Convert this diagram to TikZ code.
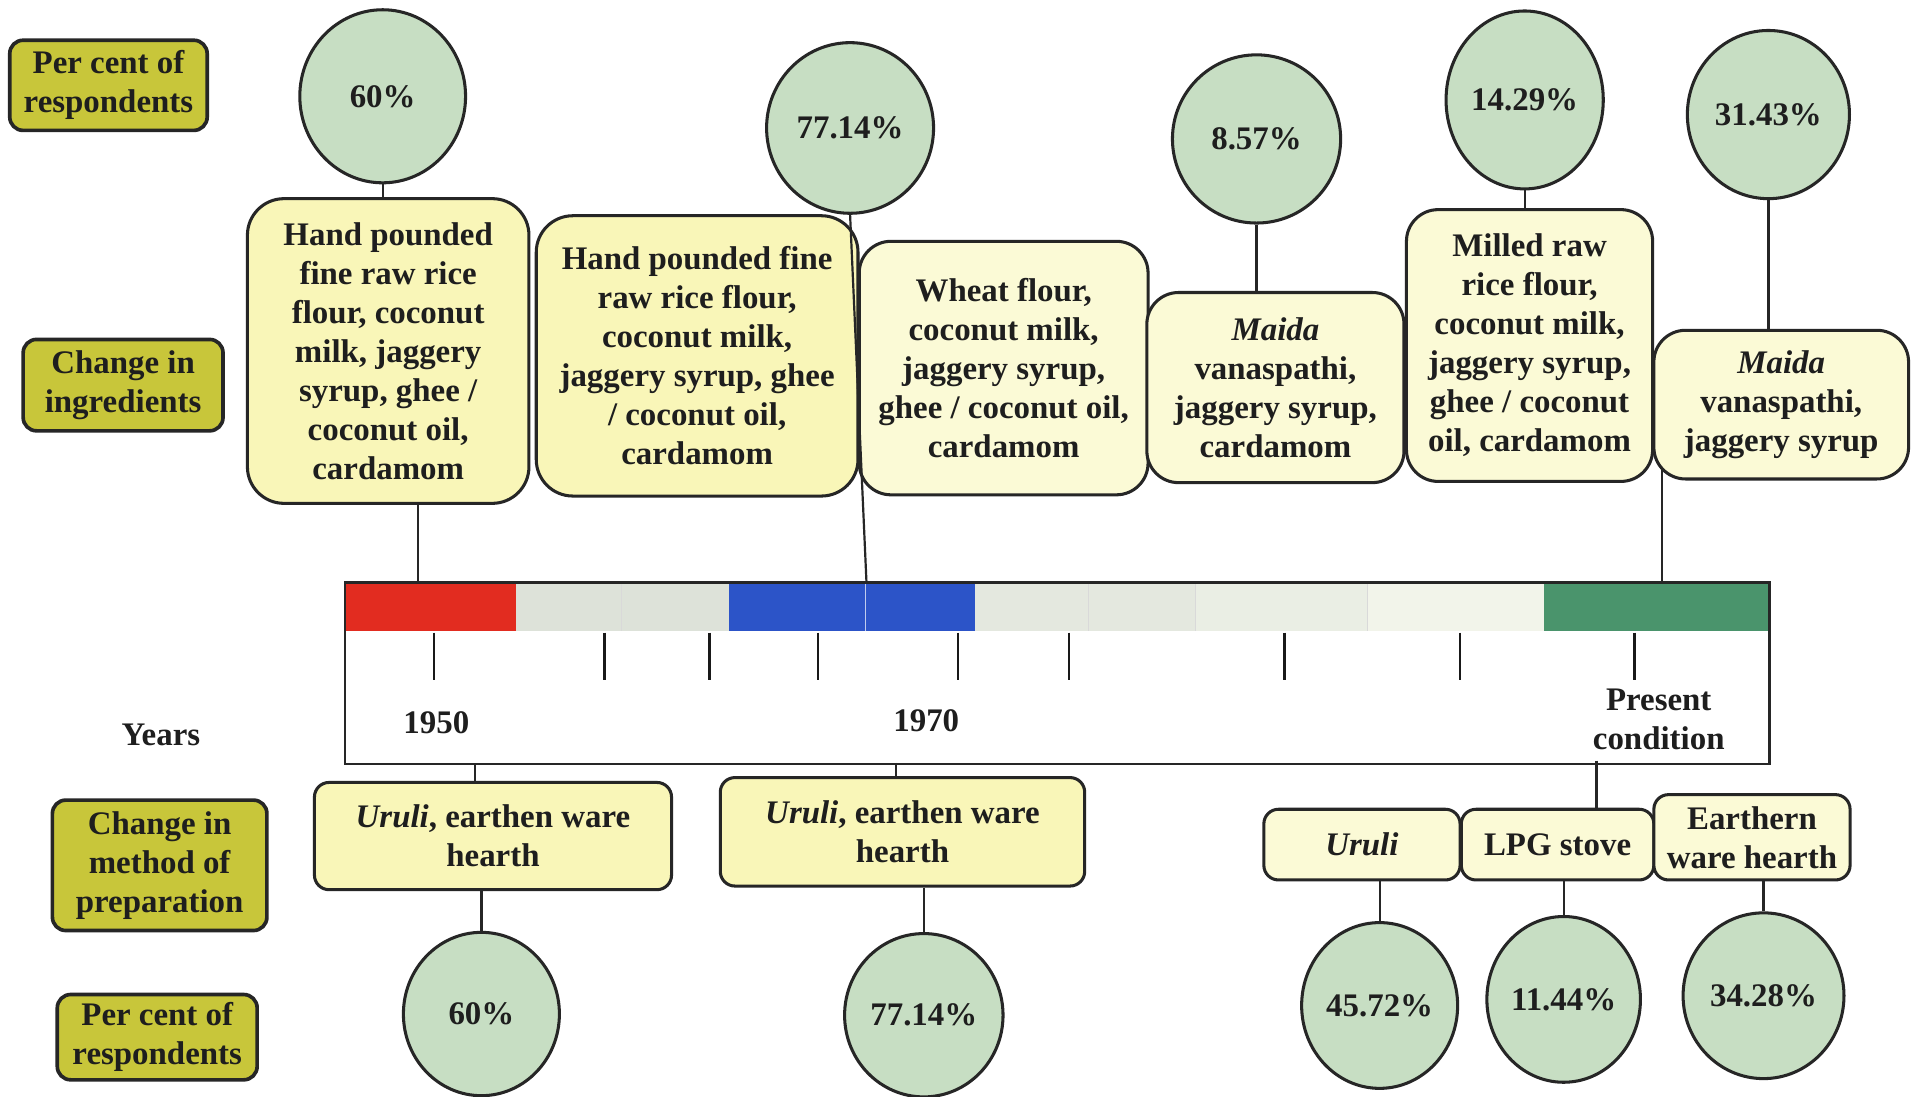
\documentclass[tikz,border=0pt]{standalone}
\usepackage{fontspec}
\setmainfont{Liberation Serif}
\usetikzlibrary{shapes.geometric}
\pgfdeclarelayer{paper}
\pgfdeclarelayer{links}
\pgfsetlayers{paper,links,main}

\definecolor{labelolive}{RGB}{200,198,58}
\definecolor{sage}{RGB}{199,222,195}
\definecolor{creamdeep}{RGB}{249,246,184}
\definecolor{creamsoft}{RGB}{251,250,214}
\definecolor{inkdark}{RGB}{30,30,30}
\definecolor{era1}{RGB}{226,44,32}
\definecolor{era2}{RGB}{44,84,200}
\definecolor{era3}{RGB}{74,148,108}
\definecolor{mist1}{RGB}{221,226,217}
\definecolor{mist2}{RGB}{228,232,223}
\definecolor{mist3}{RGB}{234,238,228}
\definecolor{mist4}{RGB}{242,244,234}

\begin{document}
\begin{tikzpicture}[x=1pt,y=-1pt,
  every node/.style={text=inkdark, font=\bfseries\fontsize{27pt}{32pt}\selectfont, inner sep=0pt, align=center},
  lab/.style={draw=black!85, line width=3pt, fill=labelolive, rounded corners=11pt},
  pct/.style={ellipse, draw=black!85, line width=2.5pt, fill=sage},
  ing/.style={draw=black!85, line width=2.5pt, fill=creamdeep, rounded corners=30pt},
  ingsoft/.style={ing, fill=creamsoft, rounded corners=26pt},
  meth/.style={draw=black!85, line width=2.5pt, fill=creamdeep, rounded corners=12pt},
  methsoft/.style={meth, fill=creamsoft},
  link/.style={draw=black!85, line width=1.8pt},
  tick/.style={draw=black!90, line width=2pt},
  seam/.style={draw=black!15, line width=0.6pt}]

\useasboundingbox (0,0) rectangle (1568,900);
\begin{pgfonlayer}{paper}
  \fill[white] (0,0) rectangle (1568,900);
\end{pgfonlayer}

% ---- row labels ----
\node[lab, minimum width=162pt, minimum height=74pt] (lpctTop) at (89,70) {Per cent of\\respondents};
\node[lab, minimum width=164pt, minimum height=75pt] (lingr) at (101,316) {Change in\\ingredients};
\node (years) at (132,603) {Years};
\node[lab, minimum width=176pt, minimum height=107pt] (lmeth) at (131,710) {Change in\\method of\\preparation};
\node[lab, minimum width=164pt, minimum height=70pt] (lpctBot) at (129,851) {Per cent of\\respondents};

% ---- timeline bar ----
\fill[era1]  (283,479) rectangle (423,518);
\fill[mist1] (423,479) rectangle (598,518);
\fill[era2]  (598,479) rectangle (800,518);
\fill[mist2] (800,479) rectangle (981,518);
\fill[mist3] (981,479) rectangle (1122,518);
\fill[mist4] (1122,479) rectangle (1267,518);
\fill[era3]  (1267,479) rectangle (1451,518);
\draw[seam] (510,479) -- (510,518);
\draw[seam] (893,479) -- (893,518);
\draw[seam] (981,479) -- (981,518);
\draw[seam] (1122,479) -- (1122,518);
\draw[white!70!era2, line width=0.8pt] (710,479) -- (710,518);
\node[draw=black!85, line width=2pt, minimum width=1169pt, minimum height=149pt] (bar) at (867.5,552.5) {};

\foreach \tx in {356,496,582,671,786,877,1054,1198,1341}
  \draw[tick] (\tx,519) -- (\tx,558);

\node (y1950) at (358,593) {1950};
\node (y1970) at (760,591) {1970};
\node (ynow) at (1361,590) {Present\\condition};

% ---- ingredients row ----
\node[ing, minimum width=231pt, minimum height=250pt] (i1) at (318.5,288)
  {Hand pounded\\fine raw rice\\flour, coconut\\milk, jaggery\\syrup, ghee /\\coconut oil,\\cardamom};
\node[ing, minimum width=264pt, minimum height=230pt] (i2) at (572,292)
  {Hand pounded fine\\raw rice flour,\\coconut milk,\\jaggery syrup, ghee\\/ coconut oil,\\cardamom};
\node[ingsoft, minimum width=237pt, minimum height=208pt] (i3) at (823.5,302)
  {Wheat flour,\\coconut milk,\\jaggery syrup,\\ghee / coconut oil,\\cardamom};
\node[ingsoft, minimum width=211pt, minimum height=156pt] (i4) at (1046.5,318)
  {\textit{Maida}\\vanaspathi,\\jaggery syrup,\\cardamom};
\node[ingsoft, minimum width=202pt, minimum height=223pt] (i5) at (1255,283.5)
  {Milled raw\\rice flour,\\coconut milk,\\jaggery syrup,\\ghee / coconut\\oil, cardamom};
\node[ingsoft, minimum width=209pt, minimum height=122pt] (i6) at (1461.5,332)
  {\textit{Maida}\\vanaspathi,\\jaggery syrup};

% ---- ingredient shares ----
\node[pct, minimum width=136pt, minimum height=142pt] (p1) at (314,79) {60\%};
\node[pct, minimum width=137pt, minimum height=140pt] (p2) at (697.5,105) {77.14\%};
\node[pct, minimum width=138pt, minimum height=138pt] (p3) at (1031,114) {8.57\%};
\node[pct, minimum width=129pt, minimum height=146pt] (p4) at (1251,82) {14.29\%};
\node[pct, minimum width=133pt, minimum height=138pt] (p5) at (1451,94) {31.43\%};

% ---- preparation row ----
\node[meth, minimum width=293pt, minimum height=88pt] (m1) at (404.5,686) {\textit{Uruli}, earthen ware\\hearth};
\node[meth, minimum width=299pt, minimum height=89pt] (m2) at (740.5,682.5) {\textit{Uruli}, earthen ware\\hearth};
\node[methsoft, minimum width=161pt, minimum height=58pt] (m3) at (1117.5,693) {\textit{Uruli}};
\node[methsoft, minimum width=158pt, minimum height=58pt] (m4) at (1278,693) {LPG stove};
\node[methsoft, minimum width=161pt, minimum height=70pt] (m5) at (1437.5,687) {Earthern\\ware hearth};

% ---- preparation shares ----
\node[pct, minimum width=128pt, minimum height=134pt] (q1) at (395,832) {60\%};
\node[pct, minimum width=130pt, minimum height=134pt] (q2) at (758,833) {77.14\%};
\node[pct, minimum width=128pt, minimum height=136pt] (q3) at (1132,825) {45.72\%};
\node[pct, minimum width=126pt, minimum height=136pt] (q4) at (1283,820) {11.44\%};
\node[pct, minimum width=132pt, minimum height=136pt] (q5) at (1447,817) {34.28\%};

% ---- attachment points on the bar ----
\coordinate (t1) at (343,479);
\coordinate (t2) at (711,479);
\coordinate (t6) at (1364,479);
\coordinate (b1) at (390,627);
\coordinate (b2) at (735,626);
\coordinate (b4) at (1310,624);

% ---- connectors ----
\begin{pgfonlayer}{links}
  \draw[link] (p1.south) -- (p1.south |- i1.north);
  \draw[link] (t1 |- i1.south) -- (t1);
  \draw[link] (p3.south) -- (p3.south |- i4.north);
  \draw[link] (p4.south) -- (p4.south |- i5.north);
  \draw[link] (p5.south) -- (p5.south |- i6.north);
  \draw[link] (t6 |- i6.center) -- (t6);
  \draw[link] (b1) -- (b1 |- m1.north);
  \draw[link] (b2) -- (b2 |- m2.north);
  \draw[link] (b4) -- (b4 |- m4.north);
  \draw[link] (m1.south -| q1.north) -- (q1.north);
  \draw[link] (m2.south -| q2.north) -- (q2.north);
  \draw[link] (m3.south -| q3.north) -- (q3.north);
  \draw[link] (m4.south -| q4.north) -- (q4.north);
  \draw[link] (m5.south -| q5.north) -- (q5.north);
\end{pgfonlayer}
\draw[link] (p2.south) -- (t2);

\end{tikzpicture}
\end{document}
